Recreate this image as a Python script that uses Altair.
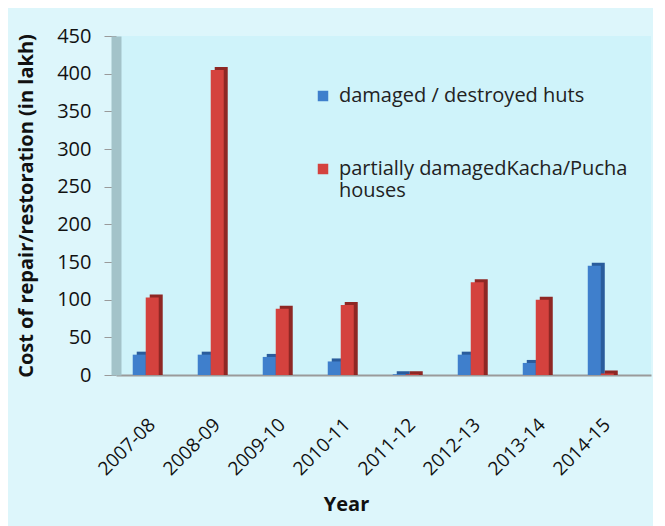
import altair as alt
import pandas as pd

years = ["2007-08", "2008-09", "2009-10", "2010-11", "2011-12", "2012-13", "2013-14", "2014-15"]
series = ["damaged / destroyed huts", " partially damagedKacha/Pucha houses"]
huts = [27, 27, 24, 18, 1, 27, 16, 145]
houses = [103, 405, 88, 93, 1, 123, 100, 2]

rows = []
for i, y in enumerate(years):
    rows.append({"Year": y, "Series": series[0], "Cost": huts[i]})
    rows.append({"Year": y, "Series": series[1], "Cost": houses[i]})
df = pd.DataFrame(rows)

FONT = "Open Sans"
base = alt.Chart(df)

xenc = alt.X("Year:N", sort=years,
             scale=alt.Scale(paddingInner=0.6, paddingOuter=0.415, align=0.31),
             axis=alt.Axis(title="Year", labelAngle=-45, labelFontSize=19, labelFont=FONT,
                           labelColor="#111", titleFont=FONT, titleFontSize=20,
                           titleFontWeight="bold", titleColor="#111", titlePadding=16,
                           titleX=230, ticks=False, domainColor="#9a9a9a", domainWidth=2,
                           labelPadding=40, labelOverlap=False))
yaxis = alt.Axis(title="Cost of repair/restoration (in lakh)", values=list(range(0, 451, 50)),
                 grid=False, labelFontSize=20, labelFont=FONT, labelColor="#111",
                 titleFont=FONT, titleFontSize=20, titleFontWeight="bold",
                 titleColor="#111", titlePadding=20, tickColor="#9a9a9a",
                 tickSize=12, domainColor="#A3C3C9", domainWidth=10, labelPadding=13,
                 labelOverlap=False)
xoff = alt.XOffset("Series:N", sort=series)

legend_kw = dict(title=None, orient="none", legendX=197, legendY=50,
                 symbolType="square", symbolSize=110, symbolStrokeWidth=0,
                 labelFont=FONT, labelFontSize=20, labelColor="#222",
                 rowPadding=53, labelLimit=450, labelOffset=6,
                 labelExpr="datum.label == ' partially damagedKacha/Pucha houses' ? [' partially damagedKacha/Pucha', 'houses'] : datum.label")

side_shift = "datum.Series == 'damaged / destroyed huts' ? -2.5 : 10.5"

side = base.mark_bar(width=13, yOffset=-3, xOffset=alt.expr(side_shift)).encode(
    x=xenc,
    y=alt.Y("Cost:Q", stack=None, scale=alt.Scale(domain=[0, 450]), axis=yaxis),
    color=alt.condition(alt.datum.Series == series[0], alt.value("#2A5C9C"), alt.value("#8E2724")),
)
front = base.mark_bar().encode(
    x=xenc, xOffset=xoff,
    y=alt.Y("Cost:Q", stack=None, scale=alt.Scale(domain=[0, 450]), axis=yaxis),
    color=alt.Color("Series:N", sort=series,
                    scale=alt.Scale(domain=series, range=["#3F7FCC", "#D4423E"]),
                    legend=alt.Legend(**legend_kw)),
)

chart = alt.layer(side, front).properties(
    width=535, height=339,
    background="#DDF6FB",
    padding={"left": 8, "top": 18, "right": 2, "bottom": 30},
).configure_view(fill="#CFF3FA", stroke=None)

chart.save("out.html", embed_options={"renderer": "svg", "actions": False})
